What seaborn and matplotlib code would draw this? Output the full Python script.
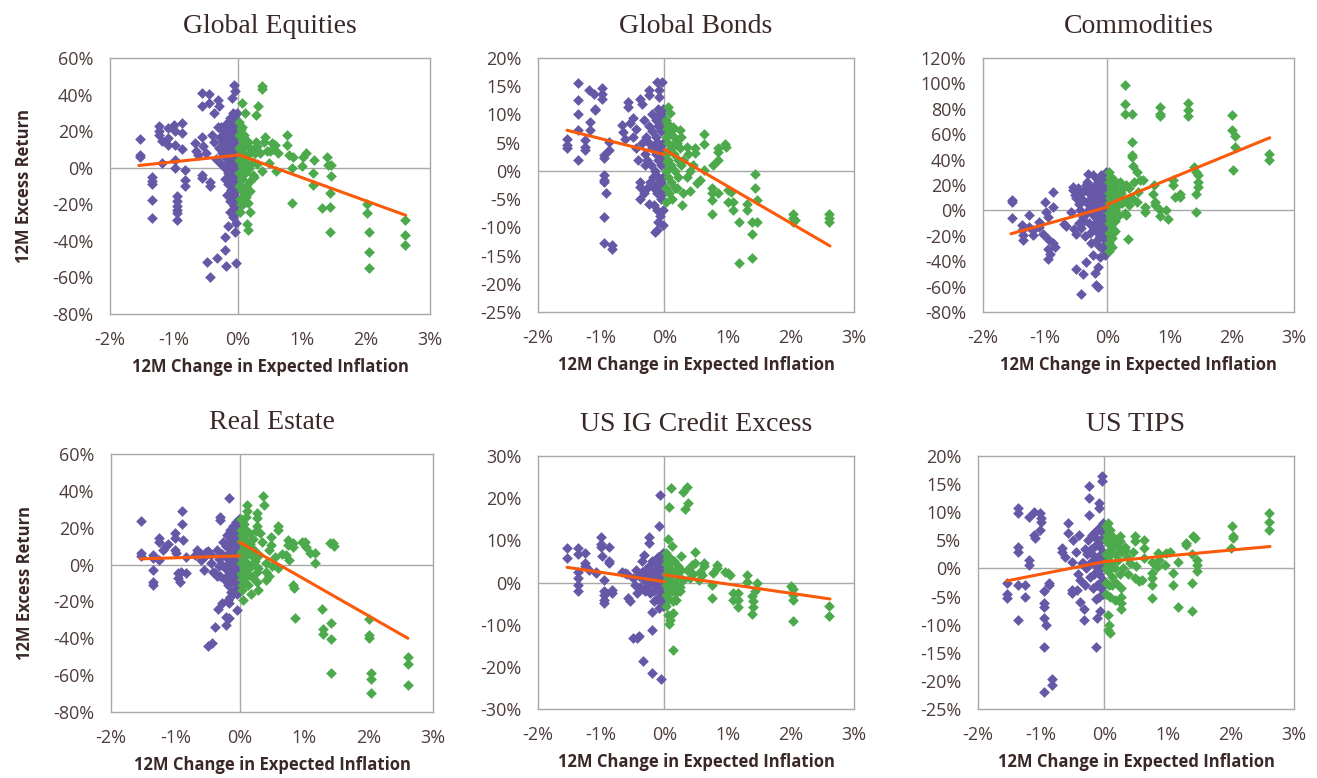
import matplotlib.pyplot as plt
import seaborn as sns
import pandas as pd
from matplotlib.ticker import FuncFormatter

sns.set_theme(style='white')
plt.rcParams['font.family'] = ['Open Sans', 'DejaVu Sans']
plt.rcParams['axes.unicode_minus'] = False

PURPLE = '#6658a6'
GREEN = '#4caa4c'
ORANGE = '#fa5a0a'
TEXT = '#3a2828'
LINE = '#a8a8a8'

# ---------------------------------------------
# data : (12M change in expected inflation %, 12M excess return %)
# purple = inflation falling, green = inflation rising
# ---------------------------------------------
eq_pur = [(-1.53, 15.7), (-1.53, 7), (-1.53, 6), (-1.35, -5), (-1.35, -7.5), (-1.35, -9), (-1.35, -17.5),
          (-1.35, -27.5), (-1.24, 22.6), (-1.24, 20), (-1.24, 18), (-1.18, 14.4), (-1.18, 2.5), (-1.1, 21.7),
          (-1.1, 16), (-1.1, 12.6), (-1.0, 23.5), (-0.98, 20), (-0.98, 12.6), (-0.98, 4), (-0.98, 0),
          (-0.96, -15.7), (-0.96, -18.4), (-0.96, -21), (-0.96, -23), (-0.96, -24.8), (-0.96, -28.5),
          (-0.88, 24.5), (-0.88, 19), (-0.88, 10), (-0.83, -1), (-0.83, -6.5), (-0.83, -10), (-0.67, 13.5),
          (-0.65, 9), (-0.63, 7), (-0.57, 41), (-0.57, 33.6), (-0.45, 40.5), (-0.45, 35.4), (-0.57, 17),
          (-0.57, -3.8), (-0.57, -5.7), (-0.44, -10), (-0.44, -8), (-0.31, 37), (-0.29, 33.6), (-0.38, 30),
          (-0.49, -51.6), (-0.33, -49.5), (-0.43, -60), (-0.2, -45), (-0.19, -54), (-0.03, -52), (-0.2, -38),
          (-0.16, -32), (-0.07, 45.4), (-0.1, 38), (-0.05, 41.8)]
eq_pur_core = [(-0.02, 30), (-0.02, 24), (-0.02, 18), (-0.02, 12), (-0.02, 6), (-0.02, 0), (-0.02, -6),
               (-0.02, -12), (-0.02, -18), (-0.03, -24), (-0.03, -30), (-0.04, -35), (-0.06, 27), (-0.06, 21),
               (-0.06, 15), (-0.06, 9), (-0.06, 3), (-0.06, -3), (-0.06, -9), (-0.07, -15), (-0.07, -21),
               (-0.08, -27), (-0.1, 24), (-0.1, 18), (-0.1, 12), (-0.1, 6), (-0.1, 0), (-0.1, -6), (-0.11, -12),
               (-0.12, -18), (-0.13, -24), (-0.14, 21), (-0.14, 15), (-0.14, 9), (-0.14, 3), (-0.15, -3),
               (-0.16, -9), (-0.17, -15), (-0.18, 24), (-0.18, 18), (-0.19, 12), (-0.2, 6), (-0.2, 0),
               (-0.21, -6), (-0.23, 20), (-0.24, 14), (-0.25, 8), (-0.26, 2), (-0.28, 17), (-0.3, 11),
               (-0.32, 22), (-0.34, 5), (-0.38, 14), (-0.41, 18), (-0.5, 8), (-0.55, 12),
               (-0.04, 27), (-0.04, 15), (-0.04, 3), (-0.04, -9), (-0.05, -21), (-0.08, 30), (-0.08, 18),
               (-0.08, 6), (-0.08, -6), (-0.09, -18), (-0.12, 27), (-0.12, 15), (-0.12, 3), (-0.13, -9),
               (-0.16, 24), (-0.16, 12), (-0.17, 0), (-0.2, 15), (-0.22, 10), (-0.27, 22)]
eq_grn = [(0.37, 44.5), (0.37, 43), (0.32, 33.6), (0.28, 29), (0.06, 35.4), (0.11, 30), (0.14, -31), (0.16, -34),
          (0.16, -19.3), (0.19, -24), (0.42, 17), (0.53, 13.5), (0.58, 12.6), (0.45, 9), (0.49, 2.5), (0.6, -2),
          (0.76, 18), (0.76, 12.6), (0.79, 7), (0.86, 6), (0.85, 0), (0.85, -19.3), (1.0, 0.7), (1.02, 6),
          (1.07, 8), (1.18, 4.4), (1.17, -3), (1.17, -9.3), (1.31, -22), (1.39, 6), (1.41, 1.6), (1.46, 1.6),
          (1.46, -4.4), (1.43, -13.9), (1.43, -21.5), (1.43, -35.4), (2.01, -20), (2.01, -24.8), (2.05, -35),
          (2.05, -46), (2.05, -54.6), (2.61, -28.5), (2.61, -36.7), (2.61, -42.5), (0.3, 12), (0.35, 8),
          (0.4, 14), (0.5, 9), (0.55, 10), (0.62, 8), (0.3, 2), (0.38, -2), (0.25, -5)]
eq_grn_core = [(0.02, 25), (0.02, 18), (0.02, 11), (0.02, 4), (0.02, -3), (0.02, -10), (0.03, -17), (0.03, -24),
               (0.06, 22), (0.06, 15), (0.06, 8), (0.06, 1), (0.06, -6), (0.07, -13), (0.08, -20), (0.1, 18),
               (0.1, 11), (0.1, 4), (0.11, -3), (0.12, -10), (0.13, -16), (0.15, 14), (0.16, 7), (0.17, 0),
               (0.18, -7), (0.19, -13), (0.21, 10), (0.23, 3), (0.24, -4), (0.26, 8), (0.28, 14),
               (0.04, 21), (0.04, 8), (0.04, -6), (0.05, -20), (0.08, 12), (0.09, -2), (0.12, 15), (0.14, 2)]
eq_fit_neg = [(-1.55, 1.2), (0.02, 7)]
eq_fit_pos = [(0.02, 7), (2.62, -26)]

bd_pur = [(-1.36, 15.5), (-1.36, 12.5), (-1.36, 10), (-1.36, 7.2), (-1.36, 1.9), (-1.54, 5.7), (-1.54, 4.5),
          (-1.54, 4.0), (-1.2, 14.3), (-1.12, 13.7), (-1.1, 11), (-1.1, 10.7), (-1.18, 8.7), (-1.18, 7.2),
          (-1.25, 5.4), (-1.25, 4.2), (-1.25, 3.7), (-0.99, 14.6), (-0.99, 13.7), (-0.99, 12.8), (-0.96, 2.8),
          (-0.96, 2.2), (-0.88, 5.1), (-0.88, 3.7), (-0.95, -0.8), (-0.96, -1.6), (-0.96, -1.9), (-0.93, -4),
          (-0.96, -8.2), (-0.96, -12.8), (-0.83, -13.2), (-0.83, -13.9), (-0.67, 8.1), (-0.65, 6.9),
          (-0.62, 5.7), (-0.57, 11.3), (-0.57, 12.2), (-0.49, 9.3), (-0.38, 12.8), (-0.35, 11.9), (-0.25, 14.3),
          (-0.24, 13.4), (-0.12, 15.8), (-0.04, 15.8), (-0.08, 14.3), (-0.08, 13.1), (-0.38, -1.9),
          (-0.38, -2.8), (-0.39, -4.9), (-0.33, -4), (-0.25, -5.8), (-0.12, -10.5), (-0.15, -10.8), (-0.1, -9),
          (-0.5, 6), (-0.45, 4), (-0.42, 2), (-0.55, 8.5), (-0.45, 7.5), (-0.35, 5), (-0.32, 9), (-0.3, 1),
          (-0.28, -3)]
bd_pur_core = [(-0.02, 11), (-0.02, 8), (-0.02, 5), (-0.02, 2), (-0.02, -1), (-0.02, -4), (-0.02, -7),
               (-0.03, -9.5), (-0.06, 10), (-0.06, 7), (-0.06, 4), (-0.06, 1), (-0.06, -2), (-0.06, -5),
               (-0.07, -8), (-0.1, 11), (-0.1, 8), (-0.1, 5), (-0.1, 2), (-0.1, -1), (-0.11, -4), (-0.12, -7),
               (-0.14, 9), (-0.14, 6), (-0.14, 3), (-0.15, 0), (-0.16, -3), (-0.17, -6), (-0.19, 10), (-0.19, 7),
               (-0.2, 4), (-0.21, 1), (-0.22, -2), (-0.24, 8), (-0.25, 5), (-0.27, 2), (-0.29, 6), (-0.31, 3),
               (-0.04, 9.5), (-0.04, 3.5), (-0.04, -2.5), (-0.08, 8.5), (-0.08, 2.5), (-0.08, -3.5),
               (-0.12, 9.5), (-0.12, 3.5), (-0.13, -2.5), (-0.17, 4.5), (-0.18, -1)]
bd_grn = [(0.06, 11.3), (0.09, 10.2), (0.04, 8.4), (0.14, 7.8), (0.25, 7.2), (0.27, 6), (0.35, 4.2), (0.38, 3),
          (0.48, 4.0), (0.48, 3.1), (0.62, 6.6), (0.62, 4.8), (0.62, 0.1), (0.56, -1.7), (0.51, -2.2), (0.77, 1),
          (0.85, 1.9), (0.85, 4), (0.85, 3.4), (0.96, 4.8), (0.97, 4.3), (0.75, -3.1), (0.75, -4), (0.75, -5.2),
          (0.85, -4), (0.75, -7.6), (1.01, -3.4), (1.06, -3.7), (1.01, -5.5), (1.09, -5.5), (1.09, -7),
          (1.18, -9), (1.18, -16.4), (1.3, -5.8), (1.3, -7), (1.43, -0.5), (1.43, -3.1), (1.46, -5.2),
          (1.38, -9), (1.46, -9), (1.38, -11.1), (1.38, -15.5), (2.03, -7.6), (2.03, -8.4), (2.03, -9.0),
          (2.06, -8.7), (2.61, -7.6), (2.61, -8.4), (2.61, -9), (0.3, 2), (0.35, -1), (0.4, -3.5), (0.3, -4),
          (0.28, -6), (0.2, -3), (0.45, 1), (0.4, 0)]
bd_grn_core = [(0.02, 9), (0.02, 6), (0.02, 3), (0.02, 0), (0.02, -3), (0.03, -5.5), (0.06, 8), (0.06, 5),
               (0.06, 2), (0.06, -1), (0.07, -4), (0.1, 7), (0.1, 4), (0.1, 1), (0.11, -2), (0.12, -5), (0.15, 6),
               (0.15, 3), (0.16, 0), (0.17, -3), (0.2, 5), (0.21, 2), (0.22, -1), (0.25, 4), (0.26, 1),
               (0.04, 7.5), (0.04, 1.5), (0.08, 6.5), (0.08, 0.5), (0.13, 4.5)]
bd_fit_neg = [(-1.54, 7.2), (0.0, 2.9)]
bd_fit_pos = [(0.0, 3.8), (2.62, -13.3)]

cm_pur = [(-1.54, 7.9), (-1.54, 6.6), (-1.54, -5.8), (-1.38, -11.8), (-1.37, -15.7), (-1.36, -19.7), (-1.36, -23),
          (-1.26, -3.9), (-1.26, -13), (-1.2, -15.7), (-1.19, -19.7), (-1.1, -13), (-1.1, -9.2), (-1.03, -18.4),
          (-1.0, 6.6), (-0.98, -1.3), (-0.95, -5.2), (-0.88, 14.4), (-0.88, 2.6), (-0.96, -22.3), (-0.95, -30.2),
          (-0.95, -38), (-0.93, -34), (-0.88, -26), (-0.85, -29), (-0.69, -10.5), (-0.66, -12.6), (-0.58, -1.3),
          (-0.55, 18.4), (-0.55, 15.7), (-0.54, -14.4), (-0.5, -18.4), (-0.5, -46), (-0.39, -50.4), (-0.43, -66),
          (-0.34, -40.7), (-0.2, -49), (-0.18, -59), (-0.15, -60), (-0.15, -44.6), (-0.31, 28.9), (-0.23, 27.6),
          (-0.23, -35.4), (-0.12, -36.7), (-0.04, -35.4), (-0.5, 10), (-0.45, 5), (-0.42, 14), (-0.4, -5),
          (-0.45, -10), (-0.35, 20), (-0.36, -20)]
cm_pur_core = [(-0.02, 30), (-0.02, 22), (-0.02, 14), (-0.02, 6), (-0.02, -2), (-0.02, -10), (-0.02, -18),
               (-0.03, -26), (-0.03, -33), (-0.06, 26), (-0.06, 18), (-0.06, 10), (-0.06, 2), (-0.06, -6),
               (-0.07, -14), (-0.07, -22), (-0.08, -30), (-0.1, 28), (-0.1, 20), (-0.1, 12), (-0.1, 4),
               (-0.11, -4), (-0.11, -12), (-0.12, -20), (-0.13, -28), (-0.15, 24), (-0.15, 16), (-0.15, 8),
               (-0.16, 0), (-0.17, -8), (-0.18, -16), (-0.19, -24), (-0.2, 20), (-0.21, 12), (-0.22, 4),
               (-0.23, -4), (-0.24, -12), (-0.26, 18), (-0.27, 10), (-0.28, 2), (-0.3, 14), (-0.32, 6),
               (-0.34, -2), (-0.04, 26), (-0.04, 10), (-0.04, -6), (-0.05, -22), (-0.08, 22), (-0.08, 6),
               (-0.09, -10), (-0.13, 24), (-0.13, 8), (-0.14, -8), (-0.18, 16), (-0.19, 0), (-0.25, 8),
               (-0.36, 16), (-0.4, 8), (-0.44, 0), (-0.38, -8), (-0.42, -14), (-0.48, 18), (-0.52, 12),
               (-0.3, -10), (-0.28, -18), (-0.32, 22), (-0.26, -26)]
cm_grn = [(0.28, 98.4), (0.28, 83.5), (0.28, 76), (0.39, 76), (0.39, 53.8), (0.4, 43.3), (0.4, 42), (0.41, 34.6),
          (0.84, 81.4), (0.84, 76), (0.84, 74.3), (1.3, 84.8), (1.3, 78.7), (1.3, 74.3), (2.01, 74.8), (2.01, 63),
          (2.05, 58.3), (2.05, 49.9), (2.02, 32), (2.6, 44.6), (2.6, 39.4), (0.33, -22.3), (0.47, 30.2),
          (0.52, 23.6), (0.57, 23.6), (0.49, 14.4), (0.48, 6.6), (0.6, 2.6), (0.6, -1.3), (0.75, 19.7),
          (0.74, 13.1), (0.76, 6.6), (0.76, 3.9), (0.84, 0), (0.84, -4.7), (0.95, 0), (0.98, -6.6), (1.05, 23.6),
          (1.06, 19.7), (1.08, 10.5), (1.16, 10.5), (1.16, 13.1), (1.4, 34), (1.43, 30.2), (1.46, 27.6),
          (1.46, 22.3), (1.46, 18.4), (1.42, 13.1), (1.42, -1.3), (0.3, 20), (0.35, 18), (0.3, 8), (0.35, 4),
          (0.28, -2), (0.4, 10), (0.42, 22), (0.3, -4)]
cm_grn_core = [(0.02, 30), (0.02, 22), (0.02, 14), (0.02, 6), (0.02, -2), (0.02, -10), (0.02, -18), (0.03, -26),
               (0.03, -32), (0.06, 26), (0.06, 18), (0.06, 10), (0.06, 2), (0.06, -6), (0.07, -14), (0.07, -22),
               (0.08, -29), (0.1, 24), (0.1, 16), (0.1, 8), (0.11, 0), (0.12, -8), (0.13, -16), (0.15, 20),
               (0.16, 12), (0.17, 4), (0.18, -4), (0.21, 22), (0.22, 14), (0.23, 6), (0.25, 18),
               (0.04, 26), (0.04, 10), (0.04, -6), (0.05, -22), (0.08, 14), (0.09, -2), (0.09, -18),
               (0.13, 20), (0.14, 4)]
cm_fit_neg = [(-1.55, -18.4), (0.0, 2.6)]
cm_fit_pos = [(0.0, 4.7), (2.61, 57.2)]

re_pur = [(-1.54, 23.4), (-1.54, 6.5), (-1.54, 4.9), (-1.35, 5.3), (-1.35, 3.4), (-1.35, -2.9), (-1.35, -9.2),
          (-1.35, -11), (-1.25, 14.3), (-1.25, 12.5), (-1.25, 2.5), (-1.19, 8), (-1.16, 9.8), (-1.11, 11.2),
          (-1.0, 17), (-1.0, 14.3), (-1.0, 8), (-0.99, 6.2), (-0.96, -4.7), (-0.96, -7.4), (-0.93, -9.2),
          (-0.91, -3.8), (-0.89, 29.3), (-0.89, 22.1), (-0.88, 13.4), (-0.83, 4.3), (-0.83, -4.7), (-0.66, 8),
          (-0.61, 2.5), (-0.56, -2.9), (-0.49, 7.1), (-0.44, 5.3), (-0.41, -3.8), (-0.39, -4.7), (-0.49, -44),
          (-0.43, -42.8), (-0.39, -34), (-0.34, -24.1), (-0.3, 26), (-0.3, 24.3), (-0.17, 36), (-0.27, -20.7),
          (-0.18, -19.2), (-0.16, -21), (-0.15, -17.8), (-0.21, -28.3), (-0.21, -32.8), (-0.16, -29.2),
          (-0.05, -24.6), (-0.6, 6), (-0.55, 4), (-0.52, 7), (-0.45, 1), (-0.35, 8), (-0.32, -1), (-0.36, -6),
          (-0.7, 5)]
re_pur_core = [(-0.02, 25), (-0.02, 19), (-0.02, 13), (-0.02, 7), (-0.02, 1), (-0.02, -5), (-0.03, -11),
               (-0.04, -16), (-0.06, 23), (-0.06, 17), (-0.06, 11), (-0.06, 5), (-0.06, -1), (-0.07, -7),
               (-0.08, -13), (-0.1, 21), (-0.1, 15), (-0.1, 9), (-0.1, 3), (-0.11, -3), (-0.12, -9),
               (-0.13, -15), (-0.15, 19), (-0.15, 13), (-0.15, 7), (-0.16, 1), (-0.17, -5), (-0.18, -11),
               (-0.2, 16), (-0.21, 10), (-0.22, 4), (-0.23, -2), (-0.24, -8), (-0.26, 12), (-0.27, 6),
               (-0.28, 0), (-0.3, -6), (-0.32, 3), (-0.04, 22), (-0.04, 10), (-0.04, -2), (-0.08, 20),
               (-0.08, 8), (-0.09, -4), (-0.12, 18), (-0.12, 6), (-0.14, -6), (-0.18, 10), (-0.19, -2)]
re_grn = [(0.36, 37), (0.38, 32.4), (0.11, 32.4), (0.11, 29.3), (0.09, 26), (0.26, 27.9), (0.26, 25.2),
          (0.26, 20.7), (0.31, 17), (0.6, 20.7), (0.6, 18.8), (0.49, 15.2), (0.49, 10.7), (0.75, 13.4),
          (0.75, 10.7), (0.72, 5.3), (0.77, 2.5), (0.83, 11.6), (0.83, 9.8), (0.96, 12.5), (1.01, 12.5),
          (1.03, 9.8), (1.09, 6.2), (1.16, 6.2), (1.16, 0.7), (1.4, 11.6), (1.45, 11.6), (1.46, 10.1),
          (0.83, -11), (0.84, -12.9), (0.85, -29.2), (1.28, -24.3), (1.29, -35), (1.29, -37.7), (1.42, -31.5),
          (1.42, -40.6), (1.42, -59), (2.01, -29.7), (2.01, -38.2), (2.01, -40), (2.04, -58.7), (2.04, -62.1),
          (2.04, -69.9), (2.61, -50.4), (2.61, -54), (2.61, -65.4), (0.41, 0.7), (0.41, -3.8), (0.41, -8.3),
          (0.45, -6), (0.28, -2), (0.03, -13.8), (0.05, -19.2), (0.18, -16), (0.28, -13.8), (0.27, -9.2),
          (0.35, 12), (0.45, 8), (0.55, 4), (0.5, -1), (0.6, -2), (0.65, 6), (0.3, 5)]
re_grn_core = [(0.02, 25), (0.02, 19), (0.02, 13), (0.02, 7), (0.02, 1), (0.02, -5), (0.03, -11), (0.06, 22),
               (0.06, 16), (0.06, 10), (0.06, 4), (0.06, -2), (0.07, -8), (0.1, 19), (0.1, 13), (0.1, 7),
               (0.11, 1), (0.12, -5), (0.13, -11), (0.15, 17), (0.16, 11), (0.17, 5), (0.18, -1), (0.19, -7),
               (0.21, 14), (0.22, 8), (0.23, 2), (0.25, 18), (0.26, -4), (0.04, 16), (0.04, 4), (0.04, -8),
               (0.08, 13), (0.08, 1), (0.13, 10), (0.14, -2)]
re_fit_neg = [(-1.54, 3.1), (0.0, 4.7)]
re_fit_pos = [(0.0, 12.1), (2.61, -40)]

ig_pur = [(-1.54, 8.1), (-1.54, 5.8), (-1.36, 8.1), (-1.36, 6.8), (-1.36, 2.6), (-1.36, 1), (-1.36, -0.6),
          (-1.36, -2.1), (-1.25, 7.1), (-1.25, 4.6), (-1.25, 3.8), (-1.2, 3), (-1.09, 2.6), (-1.09, 2.2),
          (-1.0, 10.9), (-1.0, 9.2), (-1.0, 8.5), (-0.99, 6.2), (-0.88, 8.5), (-0.88, 5), (-0.88, 4.7),
          (-0.96, 0.6), (-0.96, -2.1), (-0.96, -2.9), (-0.96, -4.1), (-0.95, -4.9), (-0.93, -2.5), (-0.83, -1.7),
          (-0.83, -2.5), (-0.67, 2.6), (-0.62, 2.2), (-0.59, 2), (-0.57, -3.7), (-0.55, -4.5), (-0.49, -13.2),
          (-0.44, -13.2), (-0.4, -12.8), (-0.34, -18.5), (-0.2, -21.5), (-0.05, -22.9), (-0.2, -11.2),
          (-0.2, -6.9), (-0.24, 10.9), (-0.24, 9.3), (-0.07, 20.8), (-0.08, 13.4), (-0.46, -0.6), (-0.44, -2.5),
          (-0.45, 3), (-0.4, 1.5), (-0.35, 5), (-0.32, 6.5), (-0.5, 1), (-0.38, -1), (-0.3, -2)]
ig_pur_core = [(-0.02, 7), (-0.02, 4.5), (-0.02, 2), (-0.02, -0.5), (-0.02, -3), (-0.03, -5.5), (-0.06, 6.5),
               (-0.06, 4), (-0.06, 1.5), (-0.06, -1), (-0.07, -3.5), (-0.08, -6), (-0.1, 6), (-0.1, 3.5),
               (-0.1, 1), (-0.11, -1.5), (-0.12, -4), (-0.14, 5.5), (-0.14, 3), (-0.15, 0.5), (-0.16, -2),
               (-0.17, -4.5), (-0.19, 5), (-0.2, 2.5), (-0.21, 0), (-0.22, -2.5), (-0.25, 4), (-0.26, 1.5),
               (-0.28, -1), (-0.3, 3), (-0.33, 0.5), (-0.36, 2.5), (-0.04, 5.5), (-0.04, 0.5), (-0.05, -4.5),
               (-0.08, 3), (-0.09, -2), (-0.12, 4.5), (-0.13, -0.5), (-0.18, 1.5)]
ig_grn = [(0.1, 22.3), (0.35, 22.7), (0.29, 21.5), (0.08, 18), (0.38, 18.8), (0.33, 17.5), (0.06, 10.3),
          (0.12, 8.7), (0.48, 7.3), (0.48, 4.6), (0.43, 4.2), (0.27, 6.2), (0.62, 4.6), (0.62, 3.8), (0.56, 2.6),
          (0.59, 1.8), (0.83, 4.2), (0.84, 3.4), (0.77, 2.2), (0.75, -0.6), (0.75, -3.7), (0.96, 2.6),
          (1.0, 2.2), (1.04, 1.8), (1.08, -2.5), (1.08, -4.1), (1.17, -2.5), (1.17, -4.1), (1.17, -5.7),
          (1.3, 1.8), (1.3, 0.2), (1.39, -3.3), (1.4, -4.5), (1.4, -5.7), (1.38, -7.5), (1.44, -2.1),
          (1.46, -0.2), (2.01, -0.9), (2.03, -1.5), (2.03, -2.9), (2.03, -4.1), (2.03, -9.1), (2.61, -5.5),
          (2.61, -7.9), (0.05, -7.7), (0.09, -8.8), (0.13, -7.3), (0.07, -9.9), (0.13, -15.9), (0.17, -2.1),
          (0.19, -4.1), (0.35, 3), (0.4, 1), (0.3, 0.5), (0.45, 2), (0.25, -2), (0.55, 0.5)]
ig_grn_core = [(0.02, 7), (0.02, 4.5), (0.02, 2), (0.02, -0.5), (0.02, -3), (0.03, -5.5), (0.06, 6), (0.06, 3.5),
               (0.06, 1), (0.06, -1.5), (0.07, -4), (0.1, 5.5), (0.1, 3), (0.11, 0.5), (0.12, -2), (0.13, -4.5),
               (0.15, 5), (0.16, 2.5), (0.17, 0), (0.18, -2.5), (0.21, 4), (0.22, 1.5), (0.24, -1), (0.26, 3),
               (0.04, 5.5), (0.04, 0.5), (0.08, 4.5), (0.08, -0.5)]
ig_fit_neg = [(-1.54, 3.6), (0.0, 0.2)]
ig_fit_pos = [(0.0, 1.8), (2.62, -3.9)]

tp_pur = [(-1.54, -2.6), (-1.54, -4.5), (-1.54, -5.3), (-1.37, 10.7), (-1.37, 9.9), (-1.36, 3.9), (-1.36, 3.0),
          (-1.36, -2.9), (-1.36, -9.2), (-1.25, -2.9), (-1.25, -5), (-1.19, 1.5), (-1.19, 0.7), (-1.2, 9.2),
          (-1.11, 10.1), (-1.11, 6), (-1.1, 5.4), (-1.02, 9.8), (-1.01, 8.9), (-1.01, 8.3), (-1.02, 6.9),
          (-0.96, -4.1), (-0.96, -6.2), (-0.96, -6.8), (-0.96, -8.9), (-0.93, -10), (-0.96, -14), (-0.87, -2.6),
          (-0.88, -2.9), (-0.83, -19.7), (-0.83, -20.8), (-0.96, -22), (-0.67, 3.6), (-0.67, 3), (-0.62, 2.1),
          (-0.57, 8), (-0.57, 6.3), (-0.52, 1.2), (-0.52, -3.8), (-0.52, -4.4), (-0.43, -3.8), (-0.38, -5.9),
          (-0.33, -7.3), (-0.33, -9.1), (-0.25, 14.6), (-0.25, 12.5), (-0.25, 9.5), (-0.09, 11.6),
          (-0.09, 10.7), (-0.04, 16.5), (-0.04, 15.5), (-0.13, -13.9), (-0.12, -8.8), (-0.07, -7.6), (-0.5, 5),
          (-0.45, 3), (-0.4, 6), (-0.35, 1), (-0.42, -1), (-0.3, -3), (-0.38, -2)]
tp_pur_core = [(-0.02, 8), (-0.02, 5.5), (-0.02, 3), (-0.02, 0.5), (-0.02, -2), (-0.03, -4.5), (-0.06, 7.5),
               (-0.06, 5), (-0.06, 2.5), (-0.06, 0), (-0.07, -2.5), (-0.08, -5), (-0.1, 7), (-0.1, 4.5),
               (-0.1, 2), (-0.11, -0.5), (-0.12, -3), (-0.13, -5.5), (-0.15, 6.5), (-0.15, 4), (-0.16, 1.5),
               (-0.17, -1), (-0.18, -3.5), (-0.2, 6), (-0.21, 3.5), (-0.22, 1), (-0.23, -1.5), (-0.26, 5),
               (-0.27, 2.5), (-0.29, 0), (-0.31, 3.5), (-0.34, 1), (-0.04, 6.5), (-0.04, 1.5), (-0.05, -3.5),
               (-0.08, 4), (-0.09, -1), (-0.13, 5.5), (-0.14, 0.5), (-0.19, 2.5)]
tp_grn = [(0.06, 8), (0.09, 6.9), (0.25, 5.7), (0.25, 4.8), (0.48, 5.7), (0.48, 4.8), (0.62, 5.1), (0.62, 3.6),
          (0.62, 1.8), (0.33, 3.9), (0.33, 3.3), (0.12, -2.9), (0.17, -5.6), (0.09, -5), (0.27, -3.5), (0.27, -5),
          (0.27, -6.2), (0.27, -7.3), (0.06, -8.2), (0.08, -10), (0.05, -10.9), (0.09, -11.5), (0.48, -1.7),
          (0.54, -2.3), (0.59, -2), (0.75, 1.2), (0.75, -0.8), (0.75, -1.7), (0.75, -2.9), (0.75, -5.3),
          (0.85, 2.7), (0.86, 1.5), (0.83, 0.3), (0.96, 0.7), (0.98, 2.7), (1.04, 3), (1.08, -0.8), (1.08, -3),
          (1.17, 1.1), (1.16, -6.8), (1.29, 4.5), (1.29, 4.2), (1.4, 5.7), (1.43, 5.4), (1.38, 2.6), (1.46, 1.5),
          (1.46, 0.7), (1.46, -0.5), (1.38, -2.5), (1.38, -7.6), (2.02, 7.5), (2.03, 5.7), (2.03, 5.4),
          (2.01, 3.6), (2.61, 9.8), (2.61, 8.3), (2.61, 6.9), (0.35, 2), (0.4, 1), (0.3, 0), (0.45, 3),
          (0.5, 0.5), (0.38, -1)]
tp_grn_core = [(0.02, 7.5), (0.02, 5), (0.02, 2.5), (0.02, 0), (0.02, -2.5), (0.03, -4.5), (0.06, 7), (0.06, 4.5),
               (0.06, 2), (0.06, -0.5), (0.07, -3), (0.1, 6), (0.1, 3.5), (0.11, 1), (0.12, -1.5), (0.15, 5),
               (0.16, 2.5), (0.17, 0), (0.18, -2.5), (0.21, 4), (0.22, 1.5), (0.24, -1), (0.26, 3),
               (0.04, 6), (0.04, 1), (0.08, 5.5), (0.08, 0.5), (0.13, 4)]
tp_fit_neg = [(-1.54, -2.2), (0.0, 1.2)]
tp_fit_pos = [(0.0, 1.2), (2.62, 3.9)]

titles = ['Global Equities', 'Global Bonds', 'Commodities', 'Real Estate', 'US IG Credit Excess', 'US TIPS']
y_ranges = [(-80, 60, 20), (-25, 20, 5), (-80, 120, 20), (-80, 60, 20), (-30, 30, 10), (-25, 20, 5)]
x_ticks = [-2, -1, 0, 1, 2, 3]

# =============================================
# 2 x 3 panels, placed by hand
# =============================================
W, H = 1317, 778
boxes = [(110, 58, 320, 256), (538, 58, 316, 254), (983, 58, 311, 254),
         (111, 454, 322, 258), (538, 456, 316, 253), (978, 456, 316, 253)]

panel_data = [
    (eq_pur + eq_pur_core, eq_grn + eq_grn_core, eq_fit_neg, eq_fit_pos),
    (bd_pur + bd_pur_core, bd_grn + bd_grn_core, bd_fit_neg, bd_fit_pos),
    (cm_pur + cm_pur_core, cm_grn + cm_grn_core, cm_fit_neg, cm_fit_pos),
    (re_pur + re_pur_core, re_grn + re_grn_core, re_fit_neg, re_fit_pos),
    (ig_pur + ig_pur_core, ig_grn + ig_grn_core, ig_fit_neg, ig_fit_pos),
    (tp_pur + tp_pur_core, tp_grn + tp_grn_core, tp_fit_neg, tp_fit_pos),
]

fig = plt.figure(figsize=(W / 100, H / 100), dpi=100)
fig.patch.set_facecolor('white')

pct = FuncFormatter(lambda v, p: f'{v:.0f}%')

for i, (title, (pur, grn, fneg, fpos), (y0, y1, step), (bx, by, bw, bh)) in enumerate(
        zip(titles, panel_data, y_ranges, boxes)):
    ax = fig.add_axes([bx / W, (H - by - bh) / H, bw / W, bh / H])

    ax.axhline(0, color=LINE, lw=1, zorder=0.5)
    ax.axvline(0, color=LINE, lw=1, zorder=0.5)

    df_p = pd.DataFrame(pur, columns=['x', 'y'])
    df_g = pd.DataFrame(grn, columns=['x', 'y'])
    sns.scatterplot(data=df_p, x='x', y='y', color=PURPLE, marker='D', s=30, linewidth=0, ax=ax, zorder=2)
    sns.scatterplot(data=df_g, x='x', y='y', color=GREEN, marker='D', s=30, linewidth=0, ax=ax, zorder=2)

    for fit in (fneg, fpos):
        df_f = pd.DataFrame(fit, columns=['x', 'y'])
        sns.lineplot(data=df_f, x='x', y='y', color=ORANGE, lw=2.2, sort=False, estimator=None, ax=ax, zorder=3)

    ax.set_xlim(-2, 3)
    ax.set_ylim(y0, y1)
    ax.set_xticks(x_ticks)
    ax.set_yticks(range(y0, y1 + 1, step))
    ax.xaxis.set_major_formatter(pct)
    ax.yaxis.set_major_formatter(pct)
    ax.tick_params(length=0, pad=12, labelsize=13, labelcolor='#4e3c3c')

    for s in ax.spines.values():
        s.set_color(LINE)
        s.set_linewidth(1)

    ax.set_title(title, fontsize=20, family=['Liberation Serif', 'DejaVu Serif'], color=TEXT, pad=18)
    ax.set_xlabel('12M Change in Expected Inflation', fontsize=12, fontweight='bold', color=TEXT, labelpad=7)
    if i % 3 == 0:
        ax.set_ylabel('12M Excess Return', fontsize=12, fontweight='bold', color=TEXT, labelpad=14)
    else:
        ax.set_ylabel('')

plt.savefig('out.png', dpi=100)
